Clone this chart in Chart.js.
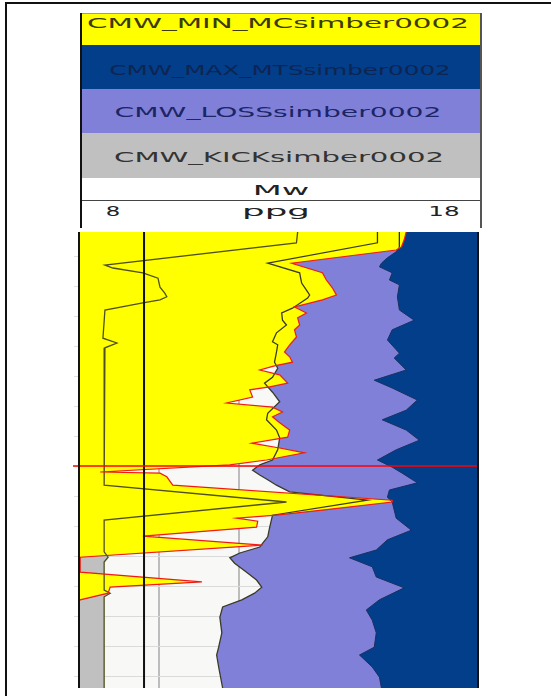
<!DOCTYPE html>
<html><head><meta charset="utf-8">
<script src="https://cdn.jsdelivr.net/npm/chart.js@4.4.1/dist/chart.umd.min.js"></script>
<style>
html,body{margin:0;padding:0;background:#fff;}
#page{position:relative;width:551px;height:696px;overflow:hidden;background:#fff;font-family:"DejaVu Sans",Verdana,sans-serif;}
.abs{position:absolute;}
.lbl{position:absolute;white-space:nowrap;font-size:14px;line-height:14px;transform-origin:center center;}
#plot{position:absolute;left:0;top:232px;}
</style></head>
<body>
<div id="page">
  <div class="abs" style="left:5px;top:2px;width:560px;height:0;border-top:2px solid #111;"></div>
  <div class="abs" style="left:5px;top:2px;width:0;height:720px;border-left:2px solid #111;"></div>
  <div id="header" class="abs" style="left:80px;top:13px;width:402px;height:215px;">
    <div class="abs" style="left:0;top:0;width:402px;height:32px;background:#ffff00;"></div>
    <div class="abs" style="left:0;top:32px;width:402px;height:44px;background:#023e8a;"></div>
    <div class="abs" style="left:0;top:76px;width:402px;height:44px;background:#8080d8;"></div>
    <div class="abs" style="left:0;top:120px;width:402px;height:45px;background:#c0c0c0;"></div>
    <div class="abs" style="left:0;top:165px;width:402px;height:22px;background:#fff;"></div>
    <div class="abs" style="left:0;top:187px;width:402px;height:1px;background:#444;"></div>
    <div class="abs" style="left:0;top:0;width:402px;height:1px;background:#9a9a9a;"></div>
    <div class="abs" style="left:0;top:0;width:2px;height:215px;background:#111;"></div>
    <div class="abs" style="left:400px;top:0;width:2px;height:215px;background:#555;"></div>
  </div>
  <canvas id="plot" width="551" height="456"></canvas>
</div>
<script>
// ---------- data ----------
const curveNames = ['CMW_MIN_MCsimber0002', 'CMW_MAX_MTSsimber0002', 'CMW_LOSSsimber0002', 'CMW_KICKsimber0002', 'Mw'];
const scaleLeft = 8;
const scaleRight = 18;
const scaleUnit = 'ppg';
const depthTop = 1960;
const depthBottom = 2720;
const markerDepth = 2350;

const kickDepth = [1960,1978,2015,2020,2028,2037,2052,2062,2068,2073,2078,2090,2137,2145,2153,2382,2410,2440,2493,2502,2510,2557,2562,2568,2720];
const kickPpg   = [13.48,13.45,8.65,8.85,9.6,9.98,10.03,10.15,10.2,10.03,9.6,8.65,8.6,8.95,8.65,8.63,13.2,8.63,8.63,8.73,8.63,8.63,8.78,8.63,8.63];

const minDepth = [1960,1973,1985,1990,2012,2028,2040,2053,2065,2073,2085,2095,2103,2115,2123,2135,2148,2160,2168,2177,2183,2190,2198,2212,2218,2223,2235,2245,2252,2260,2268,2278,2290,2302,2312,2320,2328,2340,2348,2360,2362,2368,2382,2407,2410,2423,2432,2437,2442,2452,2467,2482,2502,2527,2543,2552,2562,2573,2582,2720];
const minPpg   = [16.2,16.15,16.08,15.95,13.33,14.1,14.2,14.35,14.45,14.1,13.4,13.7,13.48,13.53,13.4,13.45,13.28,13.15,13.28,13.35,12.9,12.53,13.03,13.23,12.78,12.28,12.35,11.7,12.85,13.1,12.85,13.03,13.28,13.23,12.33,13.03,13.65,12.7,11.78,8.53,10.03,10.2,10.35,15.85,15.85,14.15,12.95,11.95,12.48,12.45,9.6,12.6,8.03,8.03,11.08,8.78,8.73,8.03,7.9,7.9];

const lossDepth = [1960,1978,2012,2028,2045,2057,2065,2070,2087,2095,2107,2115,2128,2143,2148,2160,2177,2187,2202,2212,2227,2243,2262,2273,2290,2303,2323,2340,2348,2357,2365,2373,2382,2393,2407,2432,2452,2468,2485,2495,2503,2512,2527,2540,2552,2562,2573,2585,2602,2628,2652,2665,2685,2720];
const lossPpg   = [15.48,15.48,12.73,13.53,13.58,13.7,13.78,13.73,13.35,13.08,13.1,13.2,12.95,12.85,12.98,12.95,12.9,12.98,12.85,12.65,12.85,13.03,12.73,12.7,12.95,13.03,12.98,12.85,12.53,12.35,12.53,12.73,12.95,13.28,15.23,12.85,12.78,12.73,12.53,12.03,11.78,11.9,12.2,12.45,12.58,12.4,12.08,11.6,11.53,11.58,11.5,11.45,11.5,11.6];

const maxDepth = [1960,1985,1993,2003,2012,2018,2028,2040,2048,2068,2090,2107,2123,2140,2162,2170,2190,2207,2220,2240,2257,2273,2290,2307,2323,2340,2352,2362,2378,2390,2402,2410,2437,2457,2473,2490,2503,2518,2535,2553,2573,2590,2607,2628,2652,2665,2685,2702,2720];
const maxPpg   = [16.03,16.03,15.95,15.73,15.58,15.53,15.85,15.78,16.03,15.98,16.03,16.4,15.85,15.73,16.03,15.9,16.2,15.4,15.85,16.48,16.2,15.6,16.2,16.53,15.95,15.48,15.85,16.1,16.48,15.78,15.73,15.85,15.95,16.33,15.73,15.45,14.78,15.35,15.45,16.15,15.53,15.2,15.35,15.45,15.4,15.03,15.35,15.53,15.58];

const mwDepth = [1960, 2720];
const mwPpg   = [9.63, 9.63];

// ---------- header labels ----------
const labelStyle = [
  {cx:278, cy:23,  w:380, color:'#3d3a00'},
  {cx:280, cy:70,  w:340, color:'#0e2552'},
  {cx:277.5, cy:112, w:325, color:'#1c2566'},
  {cx:279, cy:157, w:328, color:'#333333'},
  {cx:281, cy:190, w:53,  color:'#222222'}
];
const axisStyle = [
  {cx:113, cy:211, w:13, color:'#222222'},
  {cx:276, cy:211, w:63, color:'#222222'},
  {cx:444, cy:211, w:28, color:'#222222'}
];
const mctx = document.createElement('canvas').getContext('2d');
mctx.font = '14px "DejaVu Sans"';
function inkWidth(t){ const m = mctx.measureText(t); return (m.actualBoundingBoxLeft + m.actualBoundingBoxRight) || m.width; }
const page = document.getElementById('page');
function addLabel(text, st){
  const d = document.createElement('div');
  d.className = 'lbl';
  d.textContent = text;
  d.style.left = st.cx + 'px';
  d.style.top = st.cy + 'px';
  d.style.color = st.color;
  const s = st.w / inkWidth(text);
  d.style.transform = 'translate(-50%,-50%) scaleX(' + s.toFixed(3) + ')';
  page.appendChild(d);
}
curveNames.forEach((n, i) => addLabel(n, labelStyle[i]));
[String(scaleLeft), scaleUnit, String(scaleRight)].forEach((t, i) => addLabel(t, axisStyle[i]));

// ---------- chart ----------
const pts = (dep, val) => dep.map((d, i) => ({x: val[i], y: d}));

const bgPlugin = {
  id: 'bg',
  beforeDraw(chart){
    const {ctx, chartArea: a} = chart;
    ctx.save(); ctx.fillStyle = '#f8f8f6';
    ctx.fillRect(a.left, a.top, a.right - a.left, a.bottom - a.top);
    ctx.restore();
  }
};
const markerPlugin = {
  id: 'marker',
  afterDatasetsDraw(chart){
    const {ctx, chartArea: a, scales} = chart;
    const y = scales.y.getPixelForValue(markerDepth);
    ctx.save(); ctx.strokeStyle = '#ff0000'; ctx.lineWidth = 1.6;
    ctx.beginPath(); ctx.moveTo(a.left - 6, y); ctx.lineTo(a.right, y); ctx.stroke();
    ctx.restore();
  }
};
const framePlugin = {
  id: 'frame',
  afterDraw(chart){
    const {ctx, chartArea: a} = chart;
    ctx.save(); ctx.strokeStyle = '#111'; ctx.lineWidth = 2;
    ctx.beginPath();
    ctx.moveTo(a.left, a.top); ctx.lineTo(a.left, a.bottom);
    ctx.moveTo(a.right, a.top); ctx.lineTo(a.right, a.bottom);
    ctx.stroke(); ctx.restore();
  }
};

new Chart(document.getElementById('plot'), {
  type: 'line',
  data: {
    datasets: [
      {label: 'Mw', data: pts(mwDepth, mwPpg), borderColor: '#111111', borderWidth: 2, fill: false},
      {label: curveNames[0], data: pts(minDepth, minPpg), borderColor: '#f01a14', borderWidth: 1.2, backgroundColor: '#ffff00', fill: {value: scaleLeft}},
      {label: curveNames[3], data: pts(kickDepth, kickPpg), borderColor: '#4f4f1c', borderWidth: 1.3, backgroundColor: '#c0c0c0', fill: {value: scaleLeft}},
      {label: curveNames[1], data: pts(maxDepth, maxPpg), borderColor: '#1a3060', borderWidth: 1, backgroundColor: '#023e8a', fill: {value: scaleRight}},
      {label: curveNames[2], data: pts(lossDepth, lossPpg), borderColor: '#3a3a26', borderWidth: 1.3, backgroundColor: '#8080d8', fill: {value: scaleRight}}
    ]
  },
  options: {
    indexAxis: 'y',
    responsive: false,
    animation: false,
    events: [],
    layout: {padding: {left: 79, right: 73, top: 0, bottom: 0}},
    elements: {point: {radius: 0}, line: {tension: 0}},
    plugins: {
      legend: {display: false},
      tooltip: {enabled: false},
      filler: {drawTime: 'beforeDatasetsDraw'}
    },
    scales: {
      x: {
        type: 'linear', position: 'bottom', min: scaleLeft, max: scaleRight,
        ticks: {display: false, stepSize: 2},
        grid: {color: '#bdbdbd', lineWidth: 2, drawTicks: false},
        border: {display: false},
        afterFit(s){ s.height = 0; }
      },
      y: {
        type: 'linear', position: 'left', min: depthTop, max: depthBottom, reverse: true,
        ticks: {display: false, stepSize: 50, includeBounds: false},
        grid: {color: '#dadada', lineWidth: 1, drawTicks: true, tickLength: 5, tickColor: '#e2e2e2'},
        border: {display: false},
        afterFit(s){ s.width = 0; }
      }
    }
  },
  plugins: [bgPlugin, markerPlugin, framePlugin]
});
</script>
</body></html>
